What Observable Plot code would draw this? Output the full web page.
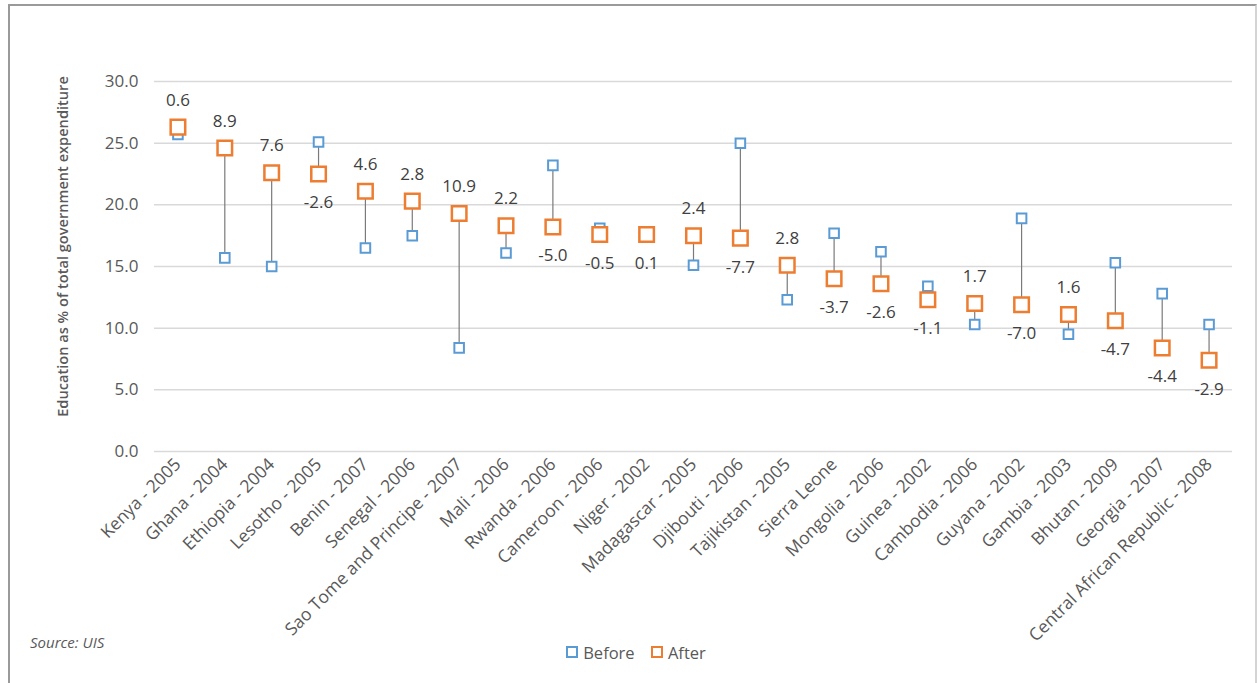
<!DOCTYPE html>
<html>
<head>
<meta charset="utf-8">
<script src="https://cdn.jsdelivr.net/npm/d3@7"></script>
<script src="https://cdn.jsdelivr.net/npm/@observablehq/plot@0.6"></script>
<style>
  html, body { margin: 0; padding: 0; background: #fff; }
  #wrap { position: relative; width: 1257px; height: 683px; overflow: hidden; font-family: "Open Sans", sans-serif; }
  #frame { position: absolute; left: 8px; top: 4px; width: 1245px; height: 700px;
           border-left: 2px solid #9a9a9a; border-top: 2px solid #9a9a9a; border-right: 2px solid #d4d4d4; }
  #chart { position: absolute; left: 0; top: 0; }
  #source { position: absolute; left: 30px; top: 632px; font-size: 15px; font-style: italic; color: #595959; }
  #legend { position: absolute; left: 0; width: 1257px; top: 640px; text-align: center; font-size: 16.5px; color: #595959; padding-left: 15px; box-sizing: border-box; }
  .key { display: inline-flex; align-items: center; margin: 0 6px; }
  .sw { display: inline-block; width: 8px; height: 8px; border: 2px solid; margin-right: 5px; }
</style>
</head>
<body>
<div id="wrap">
  <div id="frame"></div>
  <div id="chart"></div>
  <div id="source">Source: UIS</div>
  <div id="legend">
    <span class="key"><span class="sw" style="border-color:#5B9BD5"></span>Before</span>
    <span class="key"><span class="sw" style="border-color:#ED7D31"></span>After</span>
  </div>
</div>
<script>
// Country and year of the reform
const countries = [
  "Kenya - 2005", "Ghana - 2004", "Ethiopia - 2004", "Lesotho - 2005", "Benin - 2007",
  "Senegal - 2006", "Sao Tome and Principe - 2007", "Mali - 2006", "Rwanda - 2006",
  "Cameroon - 2006", "Niger - 2002", "Madagascar - 2005", "Djibouti - 2006",
  "Tajikistan - 2005", "Sierra Leone", "Mongolia - 2006", "Guinea - 2002",
  "Cambodia - 2006", "Guyana - 2002", "Gambia - 2003", "Bhutan - 2009",
  "Georgia - 2007", "Central African Republic - 2008"
];

// Education as % of total government expenditure
const before = [25.7, 15.7, 15.0, 25.1, 16.5, 17.5, 8.4, 16.1, 23.2, 18.1, 17.5, 15.1,
                25.0, 12.3, 17.7, 16.2, 13.4, 10.3, 18.9, 9.5, 15.3, 12.8, 10.3];
const after  = [26.3, 24.6, 22.6, 22.5, 21.1, 20.3, 19.3, 18.3, 18.2, 17.6, 17.6, 17.5,
                17.3, 15.1, 14.0, 13.6, 12.3, 12.0, 11.9, 11.1, 10.6, 8.4, 7.4];

const yTicks = [0, 5, 10, 15, 20, 25, 30];

const rows = countries.map((name, i) => ({
  name,
  before: before[i],
  after: after[i],
  change: Math.round((after[i] - before[i]) * 10) / 10
}));

const blue = "#5B9BD5";
const orange = "#ED7D31";
const fmt = v => v.toFixed(1);

const chart = Plot.plot({
  width: 1257,
  height: 683,
  marginTop: 81,
  marginBottom: 232,
  marginLeft: 154,
  marginRight: 25,
  style: { fontFamily: "Open Sans, sans-serif", background: "transparent" },
  x: { type: "band", domain: countries, padding: 0, round: false },
  y: { domain: [0, 30] },
  marks: [
    Plot.gridY(yTicks, { stroke: "#d9d9d9", strokeOpacity: 1, strokeWidth: 1.5 }),
    Plot.axisY(yTicks, {
      tickSize: 0, tickPadding: 16, tickFormat: fmt, label: null,
      fontSize: 17, fill: "#595959"
    }),
    Plot.axisX({
      tickSize: 0, tickPadding: 10, tickRotate: -45, label: null,
      fontSize: 17.5, fill: "#595959"
    }),
    Plot.text(["Education as % of total government expenditure"], {
      frameAnchor: "left", textAnchor: "middle", rotate: -90, dx: -91, dy: -20,
      fontSize: 14.6, fontWeight: 600, fill: "#595959"
    }),
    Plot.ruleX(rows, { x: "name", y1: "before", y2: "after", stroke: "#7a7a7a", strokeWidth: 1.2 }),
    Plot.dot(rows, { x: "name", y: "before", symbol: "square", r: 5.4, stroke: blue, strokeWidth: 2, fill: "white" }),
    Plot.dot(rows, { x: "name", y: "after", symbol: "square", r: 8.2, stroke: orange, strokeWidth: 2.5, fill: "white" }),
    // change labels: above the "after" marker for gains, below it otherwise
    Plot.text(rows.filter(d => d.change >= 0.5), {
      x: "name", y: "after", text: d => fmt(d.change), dy: -27,
      fontSize: 17, fill: "#404040"
    }),
    Plot.text(rows.filter(d => d.change < 0.5), {
      x: "name", y: "after", text: d => fmt(d.change), dy: 29,
      fontSize: 17, fill: "#404040"
    })
  ]
});

document.getElementById("chart").appendChild(chart);
</script>
</body>
</html>
